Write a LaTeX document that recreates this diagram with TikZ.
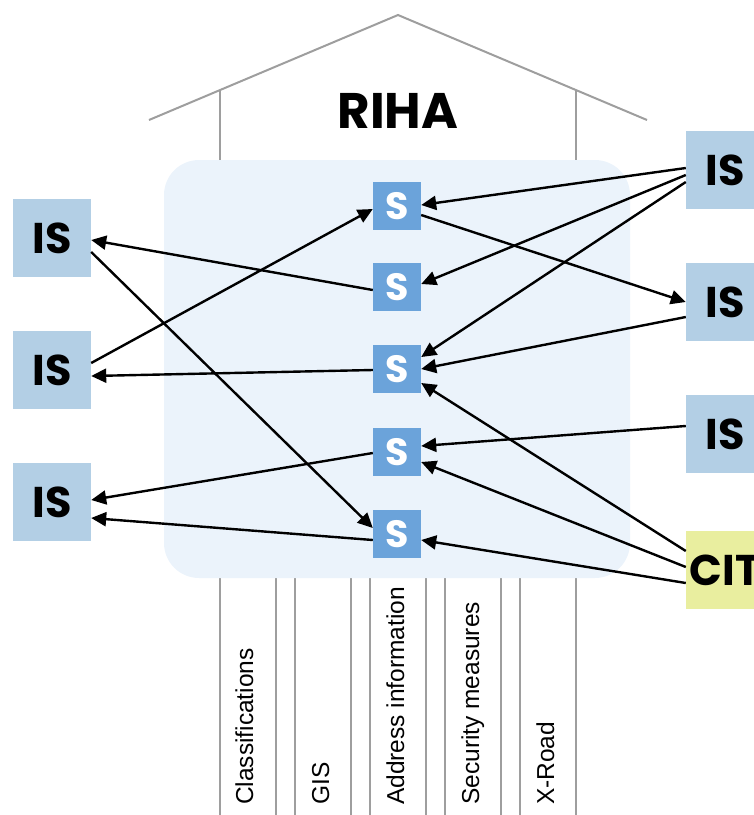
\documentclass[tikz,border=0pt]{standalone}
\usepackage{fontspec}
\setmainfont{Liberation Sans}
\newfontfamily\boxfont{Poppins}
\usetikzlibrary{arrows.meta}

\definecolor{rihabg}{HTML}{EBF3FB}
\definecolor{rihagray}{HTML}{9E9E9E}
\definecolor{isblue}{HTML}{B3CFE5}
\definecolor{sblue}{HTML}{6BA3DA}
\definecolor{cityellow}{HTML}{E9EE9F}

\begin{document}
\begin{tikzpicture}[x=1pt, y=-1pt,
    roof/.style={draw=rihagray, line width=2pt},
    isbox/.style={rectangle, fill=isblue, minimum width=78pt, minimum height=78pt, inner sep=0pt,
      font=\boxfont\bfseries\fontsize{43}{43}\selectfont},
    citbox/.style={isbox, fill=cityellow},
    sbox/.style={rectangle, fill=sblue, text=white, minimum width=48pt, minimum height=48pt, inner sep=0pt,
      font=\boxfont\bfseries\fontsize{38}{38}\selectfont},
    link/.style={draw=black, line width=2.4pt, -{Triangle[length=15pt,width=14pt]}},
    column/.style={rotate=90, anchor=west, inner sep=0pt, text height=17pt, text depth=5pt,
      font=\fontsize{24.5}{24.5}\selectfont}]
                    \clip (0,0) rectangle (754,815);
                    % roof
                    \draw[roof] (149,120) -- (398,15) -- (647,120);
                    \draw[roof] (220,90) -- (220,160);
                    \draw[roof] (576,90) -- (576,160);
                    \node[font=\boxfont\bfseries\fontsize{50}{50}\selectfont] (riha) at (398,111) {RIHA};
                    % columns
                    \foreach \x in {220,276,295,351,370,426,445,501,520,576}
                        \draw[roof] (\x,578) -- (\x,815);
                    \node[column] (classif) at (247,805) {Classifications};
                    \node[column] (gis) at (323,805) {GIS};
                    \node[column] (address) at (398,805) {Address information};
                    \node[column] (security) at (473,805) {Security measures};
                    \node[column] (xroad) at (548,805) {X-Road};
                    % catalogue
                    \fill[rihabg, rounded corners=35pt] (164,160) rectangle (630,578);
                    \node[sbox] (s1) at (397,206) {S};
                    \node[sbox] (s2) at (397,287) {S};
                    \node[sbox] (s3) at (397,369) {S};
                    \node[sbox] (s4) at (397,452) {S};
                    \node[sbox] (s5) at (397,534) {S};
                    % systems
                    \node[isbox] (isl1) at (52,238) {IS};
                    \node[isbox] (isl2) at (52,370) {IS};
                    \node[isbox] (isl3) at (52,502) {IS};
                    \node[isbox] (isr1) at (725,170) {IS};
                    \node[isbox] (isr2) at (725,302) {IS};
                    \node[isbox] (isr3) at (725,434) {IS};
                    \node[citbox] (cit) at (725,570) {CIT};
                    % right side
                    \draw[link] ([yshift=2]isr1.west) -- ([yshift=1]s1.east);
                    \draw[link] ([yshift=-5]isr1.west) -- ([yshift=3]s2.east);
                    \draw[link] ([yshift=-12]isr1.west) -- ([yshift=12]s3.east);
                    \draw[link] ([yshift=-9]s1.east) -- (isr2.west);
                    \draw[link] ([yshift=-15]isr2.west) -- (s3.east);
                    \draw[link] ([yshift=8]isr3.west) -- ([yshift=6]s4.east);
                    \draw[link] ([yshift=19]cit.west) -- ([yshift=-14]s3.east);
                    \draw[link] ([yshift=3]cit.west) -- ([yshift=-10]s4.east);
                    \draw[link] ([yshift=-13]cit.west) -- ([yshift=-6]s5.east);
                    % left side
                    \draw[link] ([yshift=-3]s2.west) -- ([yshift=-2]isl1.east);
                    \draw[link] ([yshift=-14]isl1.east) -- ([yshift=6]s5.west);
                    \draw[link] ([yshift=7]isl2.east) -- ([yshift=-3]s1.west);
                    \draw[link] ([yshift=-1]s3.west) -- ([yshift=-6]isl2.east);
                    \draw[link] ([yshift=-1]s4.west) -- ([yshift=2]isl3.east);
                    \draw[link] ([yshift=-6]s5.west) -- ([yshift=-16]isl3.east);
                \end{tikzpicture}
\end{document}
